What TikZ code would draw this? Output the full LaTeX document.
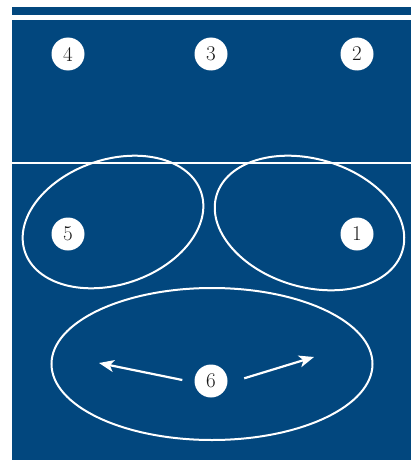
\documentclass[tikz,border=0pt]{standalone}
\usepackage{fontspec}
\usetikzlibrary{shapes.geometric,arrows.meta}
\definecolor{courtblue}{RGB}{2,71,126}
\tikzset{
  spot/.style={circle,fill=white,minimum size=33pt,inner sep=0pt,
    font=\fontsize{21}{23}\selectfont,text=black!90},
  zone/.style={ellipse,draw=white,line width=2pt,inner sep=0pt},
  move/.style={white,line width=2.2pt,-{Stealth[length=15pt,width=12pt,inset=4pt]}}
}
\begin{document}
\begin{tikzpicture}[x=1pt,y=-1pt]
\useasboundingbox (0,0) rectangle (411,460);
\fill[courtblue] (12,7) rectangle (411,460);
\draw[white,line width=5pt] (12,18) -- (411,18);
\draw[white,line width=2pt] (12,162.5) -- (411,162.5);

% zones
\node[zone,minimum width=186pt,minimum height=125pt,rotate=18.7] (zoneL) at (113,222) {};
\node[zone,minimum width=194pt,minimum height=128pt,rotate=-16.6] (zoneR) at (309.5,223) {};
\node[zone,minimum width=321pt,minimum height=152pt] (zoneB) at (212,364) {};

% players
\node[spot] (four) at (68,54) {4};
\node[spot] (three) at (211,54) {3};
\node[spot] (two) at (357,54) {2};
\node[spot] (five) at (68,234) {5};
\node[spot] (one) at (357,234) {1};
\node[spot] (six) at (211,381) {6};

\coordinate (tipL) at (99,363);
\coordinate (tipR) at (314,357);
\draw[move] ([xshift=-12pt,yshift=1pt]six.west) -- (tipL);
\draw[move] ([xshift=16.5pt,yshift=2.7pt]six.east) -- (tipR);
\end{tikzpicture}
\end{document}
